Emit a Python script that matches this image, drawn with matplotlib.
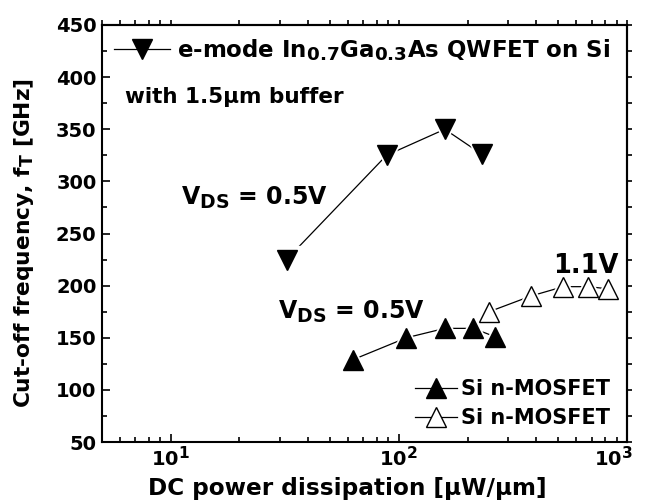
import matplotlib
matplotlib.use("Agg")
import matplotlib.pyplot as plt
from matplotlib.lines import Line2D
from matplotlib.ticker import MultipleLocator, LogLocator, NullFormatter
from matplotlib.transforms import ScaledTranslation
try:
    import matplotlib._mathtext as _mt
    _mt.SHRINK_FACTOR = 0.8
except Exception:
    pass

plt.rcParams['font.family'] = ['DejaVu Sans']
plt.rcParams['font.weight'] = 'bold'
plt.rcParams['mathtext.fontset'] = 'dejavusans'
plt.rcParams['mathtext.default'] = 'bf'

# Data
ingaas_power = [32.2, 88.3, 159, 231]
ingaas_ft = [225, 325, 350, 326]
si05_power = [63, 108, 159, 212, 264]
si05_ft = [129, 150, 159, 159, 151]
si11_power = [249, 379, 526, 676, 822]
si11_ft = [175, 190, 199, 199, 197]
x_ticks = [10, 100, 1000]

label_ingaas = "e-mode In$_{0.7}$Ga$_{0.3}$As QWFET on Si"
label_si = "Si n-MOSFET"

fig = plt.figure(figsize=(6.45, 5.04), dpi=100)
ax = fig.add_axes([102/645, 1-442/504, (627-102)/645, (442-25)/504])

def series(x, y, marker, fc):
    ax.plot(x, y, '-', color='black', lw=0.9, zorder=2)
    ax.plot(x, y, ls='none', marker=marker, ms=20, mfc='white', mec='white', zorder=3)
    ax.plot(x, y, ls='none', marker=marker, ms=14, mfc=fc, mec='black', mew=1.0, zorder=4)

series(ingaas_power, ingaas_ft, 'v', 'black')
series(si05_power, si05_ft, '^', 'black')
series(si11_power, si11_ft, '^', 'white')

ax.set_xscale('log')
ax.set_xlim(5, 1000)
ax.set_ylim(50, 450)
ax.yaxis.set_major_locator(MultipleLocator(50))
ax.yaxis.set_minor_locator(MultipleLocator(25))
ax.set_xticks(x_ticks)
ax.xaxis.set_minor_locator(LogLocator(base=10, subs=range(2, 10), numticks=10))
ax.xaxis.set_minor_formatter(NullFormatter())

ax.tick_params(which='both', direction='in', width=1.2)
ax.tick_params(which='major', length=6)
ax.tick_params(which='minor', length=3.5)
ax.tick_params(axis='y', which='major', labelsize=14, pad=4)
ax.tick_params(axis='x', which='major', labelsize=14, pad=3)
for s in ax.spines.values():
    s.set_linewidth(1.5)

# outward ticks on top and right
top = ax.secondary_xaxis('top')
top.set_xticks(x_ticks)
top.xaxis.set_minor_locator(LogLocator(base=10, subs=range(2, 10), numticks=10))
top.tick_params(which='both', direction='out', length=3.5, width=1.2, labeltop=False)
top.xaxis.set_major_formatter(NullFormatter())
top.xaxis.set_minor_formatter(NullFormatter())
top.spines['top'].set_linewidth(1.5)
right = ax.secondary_yaxis('right')
right.yaxis.set_major_locator(MultipleLocator(50))
right.yaxis.set_minor_locator(MultipleLocator(25))
right.tick_params(which='both', direction='out', length=3.5, width=1.2, labelright=False)
right.spines['right'].set_linewidth(1.5)

labels = ax.get_xticklabels()
labels[-1].set_transform(labels[-1].get_transform() +
                         ScaledTranslation(-10/72, 0, fig.dpi_scale_trans))

ax.set_xlabel("DC power dissipation [μW/μm]", fontsize=16.7, fontweight='bold')
ax.xaxis.set_label_coords((347.5-102)/525, (442-489)/417)
ax.xaxis.label.set_va('center')
ax.set_ylabel("Cut-off frequency, f$_T$ [GHz]", fontsize=15.7, fontweight='bold')
ax.yaxis.set_label_coords((24-102)/525, (442-243)/417)
ax.yaxis.label.set_va('center')

# Legends
h1 = Line2D([], [], color='black', lw=0.9, marker='v', ms=14, mfc='black', mec='black')
leg1 = ax.legend([h1], [label_ingaas], loc='upper left', bbox_to_anchor=(0.0, 1.0),
                 frameon=False, fontsize=16.5, handlelength=2.45, handletextpad=0.3,
                 borderaxespad=0.12)
ax.add_artist(leg1)
ax.text(0.044, 375, "with 1.5μm buffer", transform=ax.get_yaxis_transform(), fontsize=15.5,
        fontweight='bold', va='baseline', ha='left')

h2 = Line2D([], [], color='black', lw=0.9, marker='^', ms=14, mfc='black', mec='black')
h3 = Line2D([], [], color='black', lw=0.9, marker='^', ms=14, mfc='white', mec='black')
ax.legend([h2, h3], [label_si, label_si], loc='lower right', bbox_to_anchor=(0.983, 0.014),
          frameon=False, fontsize=15, handlelength=2.0, handletextpad=0.2,
          labelspacing=0.4, borderaxespad=0.0)

ax.text(11.06, 278, "V$_{DS}$ = 0.5V", fontsize=17, fontweight='bold', ha='left', va='baseline')
ax.text(29.4, 168, "V$_{DS}$ = 0.5V", fontsize=17, fontweight='bold', ha='left', va='baseline')
ax.text(657, 212, "1.1V", fontsize=18.5, fontweight='bold', ha='center', va='baseline')

fig.savefig("out.png", dpi=100)
